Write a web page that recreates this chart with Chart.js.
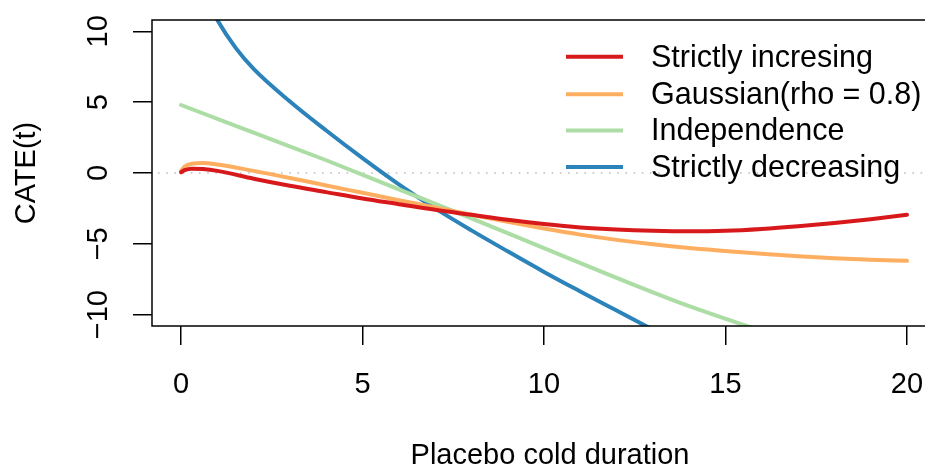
<!DOCTYPE html>
<html>
<head>
<meta charset="utf-8">
<script src="https://cdn.jsdelivr.net/npm/chart.js@4.4.1/dist/chart.umd.min.js"></script>
<style>
  html, body { margin: 0; padding: 0; background: #fff; overflow: hidden; }
  #wrap { width: 925px; height: 468px; overflow: hidden; position: relative; }
  canvas { display: block; }
</style>
</head>
<body>
<div id="wrap"><canvas id="c" width="940" height="468"></canvas></div>
<script>
// ---- data ----
const seriesLabels = ["Strictly incresing", "Gaussian(rho = 0.8)", "Independence", "Strictly decreasing"];
const seriesColors = ["#D7191C", "#FDAE61", "#ABDDA4", "#2B83BA"];

const redX = [0, 0.1, 0.3, 0.6, 1, 2, 3, 4, 5, 6, 7, 8, 9, 10, 11, 12, 13, 14, 15, 16, 17, 18, 19, 20];
const redY = [0.05, 0.2, 0.3, 0.28, 0.15, -0.4, -0.9, -1.35, -1.8, -2.2, -2.6, -2.95, -3.3, -3.6, -3.84, -3.99, -4.08, -4.12, -4.08, -3.95, -3.76, -3.53, -3.26, -2.95];

const orangeX = [0, 0.1, 0.3, 0.6, 1, 2, 3, 4, 5, 6, 7, 8, 9, 10, 11, 12, 13, 14, 15, 16, 17, 18, 19, 20];
const orangeY = [0.15, 0.45, 0.65, 0.7, 0.6, 0.15, -0.35, -0.88, -1.4, -1.92, -2.43, -2.95, -3.45, -3.92, -4.35, -4.72, -5.03, -5.29, -5.5, -5.7, -5.87, -6.02, -6.13, -6.2];

const greenX = [0, 2, 4, 6, 8, 10, 12, 14, 16];
const greenY = [4.8, 2.85, 0.9, -1.15, -3.2, -5.3, -7.4, -9.4, -11.15];

const blueX = [0.8, 1, 1.5, 2, 3, 4, 5, 6, 7, 8, 9, 10, 11, 12, 13];
const blueY = [11.8, 10.8, 8.85, 7.35, 5.05, 3.0, 1.05, -0.8, -2.5, -4.05, -5.53, -6.98, -8.36, -9.71, -11.06];

const xTicks = [0, 5, 10, 15, 20];
const yTicks = [-10, -5, 0, 5, 10];
const xTickLabels = ["0", "5", "10", "15", "20"];
const yTickLabels = ["\u221210", "\u22125", "0", "5", "10"];
const xTitle = "Placebo cold duration";
const yTitle = "CATE(t)";
const refLineY = 0;

const FONT = '"Liberation Sans", Arial, Helvetica, sans-serif';

function pts(xs, ys) { return xs.map((x, i) => ({ x: x, y: ys[i] })); }

const allX = [redX, orangeX, greenX, blueX];
const allY = [redY, orangeY, greenY, blueY];

const datasets = seriesLabels.map((lab, i) => ({
  label: lab,
  data: pts(allX[i], allY[i]),
  borderColor: seriesColors[i],
  backgroundColor: seriesColors[i],
  borderWidth: 4,
  pointRadius: 0,
  fill: false,
  cubicInterpolationMode: 'monotone',
  borderCapStyle: 'round'
}));

const decoPlugin = {
  id: 'deco',
  beforeDatasetsDraw(chart) {
    const { ctx, chartArea: a, scales: { y } } = chart;
    const py = y.getPixelForValue(refLineY);
    ctx.save();
    ctx.strokeStyle = '#BEBEBE';
    ctx.lineWidth = 1.6;
    ctx.setLineDash([1.6, 6.6]);
    ctx.beginPath();
    ctx.moveTo(a.left + 6, py);
    ctx.lineTo(a.right, py);
    ctx.stroke();
    ctx.restore();
  },
  afterDraw(chart) {
    const { ctx, chartArea: a, scales: { x, y } } = chart;
    ctx.save();
    // box
    ctx.strokeStyle = '#000';
    ctx.lineWidth = 1.5;
    ctx.strokeRect(a.left, a.top, a.right - a.left, a.bottom - a.top);

    ctx.fillStyle = '#000';
    ctx.font = '29px ' + FONT;
    // x tick labels
    ctx.textAlign = 'center';
    ctx.textBaseline = 'alphabetic';
    xTicks.forEach((v, i) => {
      ctx.fillText(xTickLabels[i], x.getPixelForValue(v), 392.5);
    });
    // x title
    ctx.fillText(xTitle, 550, 464);
    // y tick labels (rotated)
    yTicks.forEach((v, i) => {
      ctx.save();
      ctx.translate(107, y.getPixelForValue(v));
      ctx.rotate(-Math.PI / 2);
      ctx.fillText(yTickLabels[i], 0, 0);
      ctx.restore();
    });
    // y title
    ctx.save();
    ctx.translate(35, (a.top + a.bottom) / 2);
    ctx.rotate(-Math.PI / 2);
    ctx.fillText(yTitle, 0, 0);
    ctx.restore();

    // legend
    const rows = [56.7, 94.3, 130.5, 167];
    ctx.font = '30.5px ' + FONT;
    ctx.textAlign = 'left';
    chart.data.datasets.forEach((ds, i) => {
      const ry = rows[i];
      ctx.strokeStyle = ds.borderColor;
      ctx.lineWidth = 4;
      ctx.lineCap = 'butt';
      ctx.beginPath();
      ctx.moveTo(566, ry);
      ctx.lineTo(623, ry);
      ctx.stroke();
      ctx.fillStyle = '#000';
      ctx.fillText(ds.label, 651, ry + 9.8);
    });
    ctx.restore();
  }
};

new Chart(document.getElementById('c'), {
  type: 'line',
  data: { datasets: datasets },
  options: {
    responsive: false,
    animation: false,
    layout: { padding: { top: 20, right: 4, bottom: 0, left: 0 } },
    plugins: { legend: { display: false }, tooltip: { enabled: false } },
    scales: {
      x: {
        type: 'linear',
        min: -0.8, max: 20.8,
        afterBuildTicks: (s) => { s.ticks = xTicks.map(v => ({ value: v })); },
        afterFit: (s) => { s.height = 142; },
        ticks: { display: false },
        border: { display: false },
        grid: { drawOnChartArea: false, drawTicks: true, tickLength: 19, color: '#000', lineWidth: 1.5 }
      },
      y: {
        type: 'linear',
        min: -10.8, max: 10.8,
        afterBuildTicks: (s) => { s.ticks = yTicks.map(v => ({ value: v })); },
        afterFit: (s) => { s.width = 152; },
        ticks: { display: false },
        border: { display: false },
        grid: { drawOnChartArea: false, drawTicks: true, tickLength: 19, color: '#000', lineWidth: 1.5 }
      }
    }
  },
  plugins: [decoPlugin]
});
</script>
</body>
</html>
